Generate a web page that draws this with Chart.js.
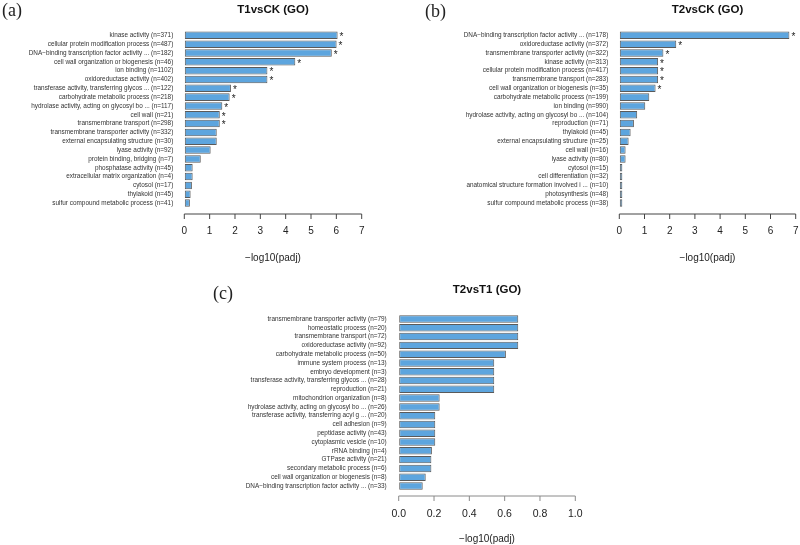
<!DOCTYPE html>
<html>
<head>
<meta charset="utf-8">
<script src="https://cdn.jsdelivr.net/npm/chart.js@4.4.1/dist/chart.umd.min.js"></script>
<style>
    html, body { margin: 0; padding: 0; background: #fff; }
    #page { position: relative; width: 800px; height: 545px; overflow: hidden; }
    canvas { position: absolute; }
    .tag { position: absolute; font-family: "Liberation Serif", "DejaVu Serif", serif; font-size: 18px; color: #222; line-height: 18px; }
</style>
</head>
<body>
<div id="page">
    <canvas id="chartA" width="400" height="280" style="left:0;top:0"></canvas>
    <canvas id="chartB" width="400" height="280" style="left:400px;top:0"></canvas>
    <canvas id="chartC" width="400" height="265" style="left:200px;top:280px"></canvas>
    <div class="tag" style="left:2px;top:1px">(a)</div>
    <div class="tag" style="left:425px;top:2px">(b)</div>
    <div class="tag" style="left:213px;top:284px">(c)</div>
</div>
<script>
// T1vsCK
const catsA = [
    'kinase activity (n=371)',
    'cellular protein modification process (n=487)',
    'DNA−binding transcription factor activity ... (n=182)',
    'cell wall organization or biogenesis (n=46)',
    'ion binding (n=1102)',
    'oxidoreductase activity (n=402)',
    'transferase activity, transferring glycos ... (n=122)',
    'carbohydrate metabolic process (n=218)',
    'hydrolase activity, acting on glycosyl bo ... (n=117)',
    'cell wall (n=21)',
    'transmembrane transport (n=298)',
    'transmembrane transporter activity (n=332)',
    'external encapsulating structure (n=30)',
    'lyase activity (n=92)',
    'protein binding, bridging (n=7)',
    'phosphatase activity (n=45)',
    'extracellular matrix organization (n=4)',
    'cytosol (n=17)',
    'thylakoid (n=45)',
    'sulfur compound metabolic process (n=41)',
];
const valsA = [6.05, 6.01, 5.82, 4.38, 3.28, 3.28, 1.84, 1.79, 1.50, 1.40, 1.40, 1.28, 1.28, 1.04, 0.65, 0.33, 0.33, 0.30, 0.25, 0.22];
const marksA = ['*', '*', '*', '*', '*', '*', '*', '*', '*', '*', '*', '', '', '', '', '', '', '', '', ''];

// T2vsCK
const catsB = [
    'DNA−binding transcription factor activity ... (n=178)',
    'oxidoreductase activity (n=372)',
    'transmembrane transporter activity (n=322)',
    'kinase activity (n=313)',
    'cellular protein modification process (n=417)',
    'transmembrane transport (n=283)',
    'cell wall organization or biogenesis (n=35)',
    'carbohydrate metabolic process (n=199)',
    'ion binding (n=990)',
    'hydrolase activity, acting on glycosyl bo ... (n=104)',
    'reproduction (n=71)',
    'thylakoid (n=45)',
    'external encapsulating structure (n=25)',
    'cell wall (n=16)',
    'lyase activity (n=80)',
    'cytosol (n=15)',
    'cell differentiation (n=32)',
    'anatomical structure formation involved i ... (n=10)',
    'photosynthesis (n=48)',
    'sulfur compound metabolic process (n=38)',
];
const valsB = [6.75, 2.26, 1.75, 1.54, 1.54, 1.54, 1.44, 1.19, 1.03, 0.71, 0.58, 0.45, 0.37, 0.25, 0.25, 0.12, 0.12, 0.12, 0.12, 0.12];
const marksB = ['*', '*', '*', '*', '*', '*', '*', '', '', '', '', '', '', '', '', '', '', '', '', ''];

// T2vsT1
const catsC = [
    'transmembrane transporter activity (n=79)',
    'homeostatic process (n=20)',
    'transmembrane transport (n=72)',
    'oxidoreductase activity (n=92)',
    'carbohydrate metabolic process (n=50)',
    'immune system process (n=13)',
    'embryo development (n=3)',
    'transferase activity, transferring glycos ... (n=28)',
    'reproduction (n=21)',
    'mitochondrion organization (n=8)',
    'hydrolase activity, acting on glycosyl bo ... (n=26)',
    'transferase activity, transferring acyl g ... (n=20)',
    'cell adhesion (n=9)',
    'peptidase activity (n=43)',
    'cytoplasmic vesicle (n=10)',
    'rRNA binding (n=4)',
    'GTPase activity (n=21)',
    'secondary metabolic process (n=6)',
    'cell wall organization or biogenesis (n=8)',
    'DNA−binding transcription factor activity ... (n=33)',
];
const valsC = [0.677, 0.677, 0.677, 0.677, 0.607, 0.541, 0.541, 0.541, 0.541, 0.232, 0.232, 0.207, 0.207, 0.207, 0.207, 0.188, 0.185, 0.185, 0.153, 0.136];
const marksC = catsC.map(() => '');

const ticksAB = [0, 1, 2, 3, 4, 5, 6, 7];
const ticksC = [0, 0.2, 0.4, 0.6, 0.8, 1.0];

const SANS = '"Liberation Sans", Arial, sans-serif';

// R-style axis: line from first to last tick, ticks pointing down
const rAxis = {
    id: 'rAxis',
    afterDraw(chart, args, opts) {
        const ctx = chart.ctx;
        const xs = chart.scales.x;
        const y0 = chart.chartArea.bottom + opts.gap;
        const vals = opts.ticks;
        ctx.save();
        ctx.strokeStyle = opts.color;
        ctx.lineWidth = 1;
        ctx.beginPath();
        ctx.moveTo(xs.getPixelForValue(vals[0]), y0);
        ctx.lineTo(xs.getPixelForValue(vals[vals.length - 1]), y0);
        vals.forEach(v => {
            const px = xs.getPixelForValue(v);
            ctx.moveTo(px, y0);
            ctx.lineTo(px, y0 + 5);
        });
        ctx.stroke();
        ctx.restore();
    }
};

// significance stars at the end of bars
const stars = {
    id: 'stars',
    afterDatasetsDraw(chart, args, opts) {
        const ctx = chart.ctx;
        const meta = chart.getDatasetMeta(0);
        ctx.save();
        ctx.fillStyle = '#222';
        ctx.font = '10px ' + SANS;
        ctx.textAlign = 'left';
        ctx.textBaseline = 'middle';
        meta.data.forEach((bar, i) => {
            if (opts.marks[i]) ctx.fillText(opts.marks[i], bar.x + 2, bar.y + 2);
        });
        ctx.restore();
    }
};

function makePanel(id, cfg) {
    return new Chart(document.getElementById(id), {
        type: 'bar',
        data: {
            labels: cfg.labels,
            datasets: [{
                data: cfg.values,
                backgroundColor: '#5da5de',
                borderColor: '#5a5a5a',
                borderWidth: 1,
                borderSkipped: false,
                barPercentage: 0.85,
                categoryPercentage: 1,
            }],
        },
        plugins: [rAxis, stars],
        options: {
            indexAxis: 'y',
            responsive: false,
            animation: false,
            events: [],
            layout: { padding: cfg.padding },
            scales: {
                y: {
                    type: 'category',
                    grid: { display: false, drawTicks: false },
                    border: { display: false },
                    afterFit: s => { s.width = cfg.yWidth; },
                    ticks: {
                        autoSkip: false,
                        padding: cfg.labelPad,
                        color: '#333',
                        font: { family: SANS, size: 6.4 },
                    },
                },
                x: {
                    type: 'linear',
                    min: cfg.ticks[0],
                    max: cfg.ticks[cfg.ticks.length - 1],
                    // invisible tick marks only push the labels down
                    grid: { display: true, drawOnChartArea: false, drawTicks: true, tickLength: cfg.tickGap, color: 'rgba(0,0,0,0)' },
                    border: { display: false },
                    afterBuildTicks: s => { s.ticks = cfg.ticks.map(v => ({ value: v })); },
                    ticks: {
                        padding: 0,
                        color: '#222',
                        font: { family: SANS, size: cfg.tickSize, lineHeight: 1.2 },
                        callback: cfg.fmt,
                    },
                    title: {
                        display: true,
                        text: '−log10(padj)',
                        color: '#222',
                        font: { family: SANS, size: 10, lineHeight: 1.2 },
                        padding: { top: cfg.titlePad, bottom: 0 },
                    },
                },
            },
            plugins: {
                legend: { display: false },
                tooltip: { enabled: false },
                title: {
                    display: true,
                    text: cfg.title,
                    fullSize: false,
                    color: '#111',
                    font: { family: SANS, size: 11.5, weight: 'bold', lineHeight: 1.2 },
                    padding: cfg.headPad,
                },
                rAxis: { gap: cfg.axisGap, ticks: cfg.ticks, color: cfg.axisColor },
                stars: { marks: cfg.marks },
            },
        },
    });
}

makePanel('chartA', {
    labels: catsA, values: valsA, marks: marksA, ticks: ticksAB, title: 'T1vsCK (GO)',
    fmt: v => String(v), tickSize: 10,
    yWidth: 184.3, labelPad: 11,
    padding: { top: 0, left: 0, right: 38.3, bottom: 15.5 },
    headPad: { top: 3, bottom: 14.1 },
    tickGap: 17.5, titlePad: 15.5, axisGap: 6.5, axisColor: '#444',
});

makePanel('chartB', {
    labels: catsB, values: valsB, marks: marksB, ticks: ticksAB, title: 'T2vsCK (GO)',
    fmt: v => String(v), tickSize: 10,
    yWidth: 219.3, labelPad: 11,
    padding: { top: 0, left: 0, right: 4.3, bottom: 15.5 },
    headPad: { top: 3, bottom: 14.1 },
    tickGap: 17.5, titlePad: 15.5, axisGap: 6.5, axisColor: '#444',
});

makePanel('chartC', {
    labels: catsC, values: valsC, marks: marksC, ticks: ticksC, title: 'T2vsT1 (GO)',
    fmt: v => v.toFixed(1), tickSize: 10.5,
    yWidth: 198.7, labelPad: 12,
    padding: { top: 0, left: 0, right: 24.7, bottom: 0 },
    headPad: { top: 3.1, bottom: 17.7 },
    tickGap: 17, titlePad: 13, axisGap: 5.6, axisColor: '#8a8a8a',
});
</script>
</body>
</html>
